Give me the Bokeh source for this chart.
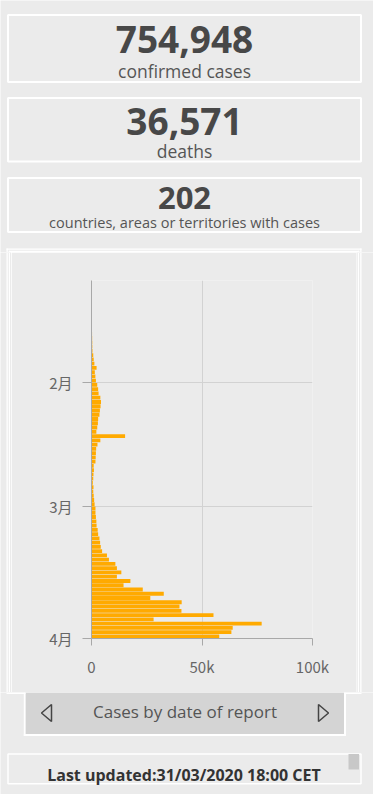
import pandas as pd
from bokeh.plotting import figure
from bokeh.models import (Range1d, FixedTicker, CustomJSTickFormatter,
                          NumeralTickFormatter, ColumnDataSource)
from bokeh.layouts import column, row
from bokeh.embed import file_html
from bokeh.resources import INLINE
from bokeh.core.properties import value

# ---------------- data ----------------
confirmed_total = "754,948"
deaths_total = "36,571"
countries_total = "202"
confirmed_label = "confirmed cases"
deaths_label = "deaths"
countries_label = "countries, areas or territories with cases"
chart_title = "Cases by date of report"
updated_text = "Last updated:31/03/2020 18:00 CET"

first_day = "2020-01-08"
axis_end = "2020-04-01"
# daily new cases by date of report
jan_cases = [150, 130, 120, 160, 110, 140, 130, 150, 170, 180, 200, 220, 250,
             300, 350, 380, 450, 800, 1000, 1300, 2300, 1500, 1750, 2000]          # Jan 8 - Jan 31
feb_cases = [2600, 3000, 3200, 4000, 4300, 4100, 3800, 3600, 3000, 2900,
             2600, 2200, 15200, 4000, 2700, 2100, 2000, 1900, 1800, 1000,
             1100, 900, 800, 600, 900, 800, 1000, 1200, 1400]                       # Feb 1 - Feb 29
mar_cases = [1800, 1800, 2000, 2200, 2300, 2800, 3000, 3600, 3900, 4200,
             4800, 7000, 7900, 10800, 11500, 13500, 11500, 17600, 14500, 23200,
             32700, 26600, 40800, 39800, 40700, 55200, 28100, 77000, 63900, 63300, 57800]  # Mar 1 - Mar 31
month_ticks = ["2020-02-01", "2020-03-01", "2020-04-01"]
case_ticks = [0, 50000, 100000]

BG = "#EBEBEB"
BAR = "#FFAA00"
DAY_MS = 86400000


def canvas(w, h, x0, x1, y0, y1):
    f = figure(width=w, height=h, x_range=Range1d(x0, x1), y_range=Range1d(y1, y0),
               toolbar_location=None, output_backend="svg", min_border=0,
               x_axis_type=None, y_axis_type=None)
    f.outline_line_color = None
    f.background_fill_color = BG
    f.border_fill_color = BG
    f.frame_align = False
    return f


def txt(f, x, base, s, size, color, bold=False, align="center"):
    # base = wanted baseline in page px; correction for the renderer's baseline offset
    f.text(x=[x], y=[base - 0.25 * size - 2], text=[s], text_align=align, text_baseline="alphabetic",
           text_font=value("Open Sans"), text_font_size=f"{size}px",
           text_font_style="bold" if bold else "normal", text_color=color)


# ---------------- top: KPI panels (page px 0-373 x 0-252) ----------------
top = canvas(373, 252, 0, 373, 0, 252)
top.quad(left=[7.5, 7.5, 7.5], right=[360.5, 360.5, 360.5], top=[14.5, 97.5, 177.5],
         bottom=[81.5, 161, 231.5], fill_color=None, line_color="white", line_width=2)
# chart panel top double border
top.quad(left=[6, 8.3, 6, 8.3, 359.7, 357.3], right=[361, 359, 7.3, 9.5, 361, 358.5],
         top=[248, 250.3, 248, 250.3, 248, 250.3], bottom=[249.3, 251.5, 252, 252, 252, 252],
         fill_color="white", line_color=None)

txt(top, 184, 50, confirmed_total, 37, "#484848", bold=True)
txt(top, 184, 77, confirmed_label, 17.5, "#555555")
txt(top, 184, 132, deaths_total, 37, "#484848", bold=True)
txt(top, 184, 156.5, deaths_label, 17.5, "#555555")
txt(top, 184, 207, countries_total, 31, "#484848", bold=True)
txt(top, 184, 228, countries_label, 14.5, "#555555")

# ---------------- chart (page px 11-356 x 252-692) ----------------
all_cases = jan_cases + feb_cases + mar_cases
dates = pd.date_range(first_day, periods=len(all_cases), freq="D")
src = ColumnDataSource(dict(y=dates + pd.Timedelta(hours=12), cases=all_cases))

chart = figure(width=345, height=440, x_range=Range1d(case_ticks[0], case_ticks[-1]),
               y_range=Range1d(start=pd.Timestamp(axis_end), end=pd.Timestamp(first_day)),
               y_axis_type="datetime", toolbar_location=None, output_backend="svg",
               min_border_left=80, min_border_right=44, min_border_top=28, min_border_bottom=54)
chart.outline_line_color = None
chart.background_fill_color = BG
chart.border_fill_color = BG
chart.frame_align = False

chart.hbar(y="y", left=0, right="cases", height=0.9 * DAY_MS, source=src,
           fill_color=BAR, line_color=None)

month_ms = [int(pd.Timestamp(t).value // 10**6) for t in month_ticks]

xa = chart.xaxis[0]
xa.ticker = FixedTicker(ticks=case_ticks)
xa.formatter = NumeralTickFormatter(format="0a")
ya = chart.yaxis[0]
ya.ticker = FixedTicker(ticks=month_ms)
ya.formatter = CustomJSTickFormatter(code="return (new Date(tick).getUTCMonth() + 1) + '月';")

for ax in (xa, ya):
    ax.axis_line_color = "#A8A8A8"
    ax.major_tick_line_color = "#A8A8A8"
    ax.minor_tick_line_color = None
    ax.major_tick_in = 0
    ax.major_label_text_color = "#666666"
    ax.major_label_text_font = "Noto Sans CJK JP"
    ax.major_label_text_font_size = "15px"
xa.major_tick_out = 7
xa.major_label_standoff = 10
ya.major_tick_out = 9
ya.major_label_standoff = 10

chart.xgrid.ticker = FixedTicker(ticks=case_ticks)
chart.ygrid.ticker = FixedTicker(ticks=month_ms)
chart.grid.grid_line_color = "#D2D2D2"
chart.grid.grid_line_width = 1

# side strips with the chart panel's double white border
lstrip = canvas(11, 440, 0, 11, 252, 692)
lstrip.quad(left=[6, 8.3], right=[7.3, 9.5], top=[252, 252], bottom=[692, 692],
            fill_color="white", line_color=None)
rstrip = canvas(17, 440, 356, 373, 252, 692)
rstrip.quad(left=[357.3, 359.7], right=[358.5, 361], top=[252, 252], bottom=[692, 692],
            fill_color="white", line_color=None)

# ---------------- bottom: selector + last updated (page px y 692-794) ----------------
bot = canvas(373, 102, 0, 373, 692, 794)
bot.quad(left=[25], right=[343.5], top=[692], bottom=[733.5], fill_color="#D4D4D4", line_color=None)
bot.quad(left=[6, 23.3, 23.3, 343.5, 343.5], right=[25, 25, 345.5, 345.5, 361],
         top=[692, 692, 733.5, 692, 692], bottom=[693.5, 735.5, 735.5, 735.5, 693.5],
         fill_color="white", line_color=None)
bot.patch(x=[51, 41, 51], y=[704, 712.5, 721], fill_color=None, line_color="#444444", line_width=1.5)
bot.patch(x=[318, 328, 318], y=[704, 712.5, 721], fill_color=None, line_color="#444444", line_width=1.5)
txt(bot, 184.5, 717, chart_title, 17, "#555555")

bot.quad(left=[7.5], right=[360.5], top=[753.5], bottom=[783.3], fill_color=None,
         line_color="white", line_width=1.5)
bot.quad(left=[348], right=[358.5], top=[753.5], bottom=[769], fill_color="#C8C8C8", line_color=None)
txt(bot, 183.5, 780, updated_text, 16, "#333333", bold=True)

layout = column(top, row(lstrip, chart, rstrip), bot)
layout.styles = {"box-shadow": "0 0 0 40px " + BG}

open("out.html", "w").write(file_html(layout, INLINE))
